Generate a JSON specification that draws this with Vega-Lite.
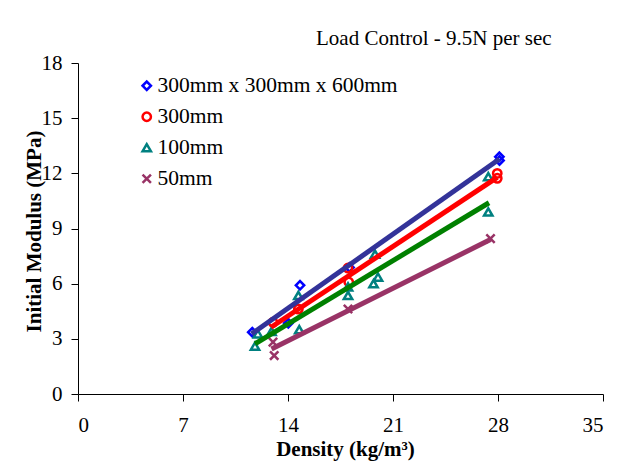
{
  "$schema": "https://vega.github.io/schema/vega-lite/v6.json",
  "width": 525,
  "height": 331,
  "autosize": {"type": "none"},
  "padding": {"left": 78, "top": 63, "right": 20, "bottom": 68},
  "background": "white",
  "title": {
    "text": "Load Control - 9.5N per sec",
    "anchor": "start",
    "frame": "group",
    "dx": 238,
    "offset": -14,
    "baseline": "alphabetic",
    "font": "Liberation Serif",
    "fontSize": 21,
    "fontWeight": "normal",
    "color": "black"
  },
  "config": {
    "view": {"stroke": null},
    "axis": {
      "grid": false,
      "domainColor": "black",
      "tickColor": "black",
      "domainWidth": 1,
      "tickWidth": 1,
      "tickSize": 7,
      "labelFont": "Liberation Serif",
      "labelFontSize": 21,
      "labelColor": "black",
      "titleFont": "Liberation Serif",
      "titleFontSize": 21,
      "titleFontWeight": "bold",
      "titleColor": "black"
    }
  },
  "datasets": {
    "pts": [
      {"series": "300mm x 300mm x 600mm", "density": 11.62, "modulus": 3.36},
      {"series": "300mm x 300mm x 600mm", "density": 14.02, "modulus": 3.85},
      {"series": "300mm x 300mm x 600mm", "density": 14.8, "modulus": 5.91},
      {"series": "300mm x 300mm x 600mm", "density": 18.1, "modulus": 6.88},
      {"series": "300mm x 300mm x 600mm", "density": 28.09, "modulus": 12.9},
      {"series": "300mm x 300mm x 600mm", "density": 28.1, "modulus": 12.7},
      {"series": "300mm", "density": 13.0, "modulus": 3.9},
      {"series": "300mm", "density": 14.69, "modulus": 4.62},
      {"series": "300mm", "density": 18.0, "modulus": 6.85},
      {"series": "300mm", "density": 18.05, "modulus": 6.09},
      {"series": "300mm", "density": 27.95, "modulus": 12.0},
      {"series": "300mm", "density": 27.95, "modulus": 11.73},
      {"series": "100mm", "density": 11.8, "modulus": 2.6},
      {"series": "100mm", "density": 11.99, "modulus": 3.27},
      {"series": "100mm", "density": 12.9, "modulus": 3.4},
      {"series": "100mm", "density": 14.69, "modulus": 5.36},
      {"series": "100mm", "density": 14.75, "modulus": 3.5},
      {"series": "100mm", "density": 18.0, "modulus": 5.82},
      {"series": "100mm", "density": 18.0, "modulus": 5.36},
      {"series": "100mm", "density": 19.8, "modulus": 7.6},
      {"series": "100mm", "density": 19.7, "modulus": 6.0},
      {"series": "100mm", "density": 20.0, "modulus": 6.36},
      {"series": "100mm", "density": 27.35, "modulus": 11.82},
      {"series": "100mm", "density": 27.35, "modulus": 9.9},
      {"series": "50mm", "density": 13.0, "modulus": 2.82},
      {"series": "50mm", "density": 13.08, "modulus": 2.09},
      {"series": "50mm", "density": 18.0, "modulus": 4.62},
      {"series": "50mm", "density": 27.5, "modulus": 8.45}
    ],
    "trend": [
      {"series": "300mm x 300mm x 600mm", "density": 11.58, "modulus": 3.27},
      {"series": "300mm x 300mm x 600mm", "density": 28.1, "modulus": 12.78},
      {"series": "300mm", "density": 12.87, "modulus": 3.63},
      {"series": "300mm", "density": 27.95, "modulus": 11.78},
      {"series": "100mm", "density": 11.8, "modulus": 2.73},
      {"series": "100mm", "density": 27.4, "modulus": 10.4},
      {"series": "50mm", "density": 12.9, "modulus": 2.45},
      {"series": "50mm", "density": 27.5, "modulus": 8.4}
    ]
  },
  "layer": [
    {
      "data": {"name": "pts"},
      "mark": {"type": "point", "filled": false, "strokeWidth": 2.5, "size": 70, "opacity": 1},
      "encoding": {
        "x": {
          "field": "density", "type": "quantitative",
          "scale": {"domain": [0, 35], "nice": false, "zero": true},
          "axis": {
            "values": [0, 7, 14, 21, 28, 35],
            "labelPadding": 13,
            "title": "Density (kg/m³)",
            "titleX": 267,
            "titleY": 61,
            "titleBaseline": "alphabetic",
            "titleAnchor": "middle"
          }
        },
        "y": {
          "field": "modulus", "type": "quantitative",
          "scale": {"domain": [0, 18], "nice": false},
          "axis": {
            "values": [0, 3, 6, 9, 12, 15, 18],
            "labelPadding": 9,
            "title": "Initial Modulus (MPa)",
            "titleX": -44,
            "titleY": 168,
            "titleAngle": -90,
            "titleBaseline": "middle",
            "titleAlign": "center"
          }
        },
        "color": {
          "field": "series", "type": "nominal",
          "scale": {
            "domain": ["300mm x 300mm x 600mm", "300mm", "100mm", "50mm"],
            "range": ["#0000FF", "#FF0000", "#008080", "#993366"]
          },
          "legend": {
            "title": null,
            "orient": "none",
            "legendX": 58,
            "legendY": 12,
            "labelFont": "Liberation Serif",
            "labelFontSize": 21.5,
            "labelColor": "black",
            "labelLimit": 0,
            "rowPadding": 8,
            "labelOffset": 0,
            "symbolStrokeWidth": 2.5,
            "symbolSize": 70
          }
        },
        "shape": {
          "field": "series", "type": "nominal",
          "scale": {
            "domain": ["300mm x 300mm x 600mm", "300mm", "100mm", "50mm"],
            "range": ["diamond", "circle", "triangle-up", "M-1,-1L1,1M-1,1L1,-1"]
          },
          "legend": {
            "title": null,
            "orient": "none",
            "legendX": 58,
            "legendY": 12
          }
        }
      }
    },
    {
      "data": {"name": "trend"},
      "mark": {"type": "line", "strokeWidth": 5},
      "encoding": {
        "x": {"field": "density", "type": "quantitative"},
        "y": {"field": "modulus", "type": "quantitative"},
        "stroke": {
          "field": "series", "type": "nominal",
          "scale": {
            "domain": ["300mm x 300mm x 600mm", "300mm", "100mm", "50mm"],
            "range": ["#333399", "#FF0000", "#008000", "#993366"]
          },
          "legend": null
        }
      }
    }
  ]
}
